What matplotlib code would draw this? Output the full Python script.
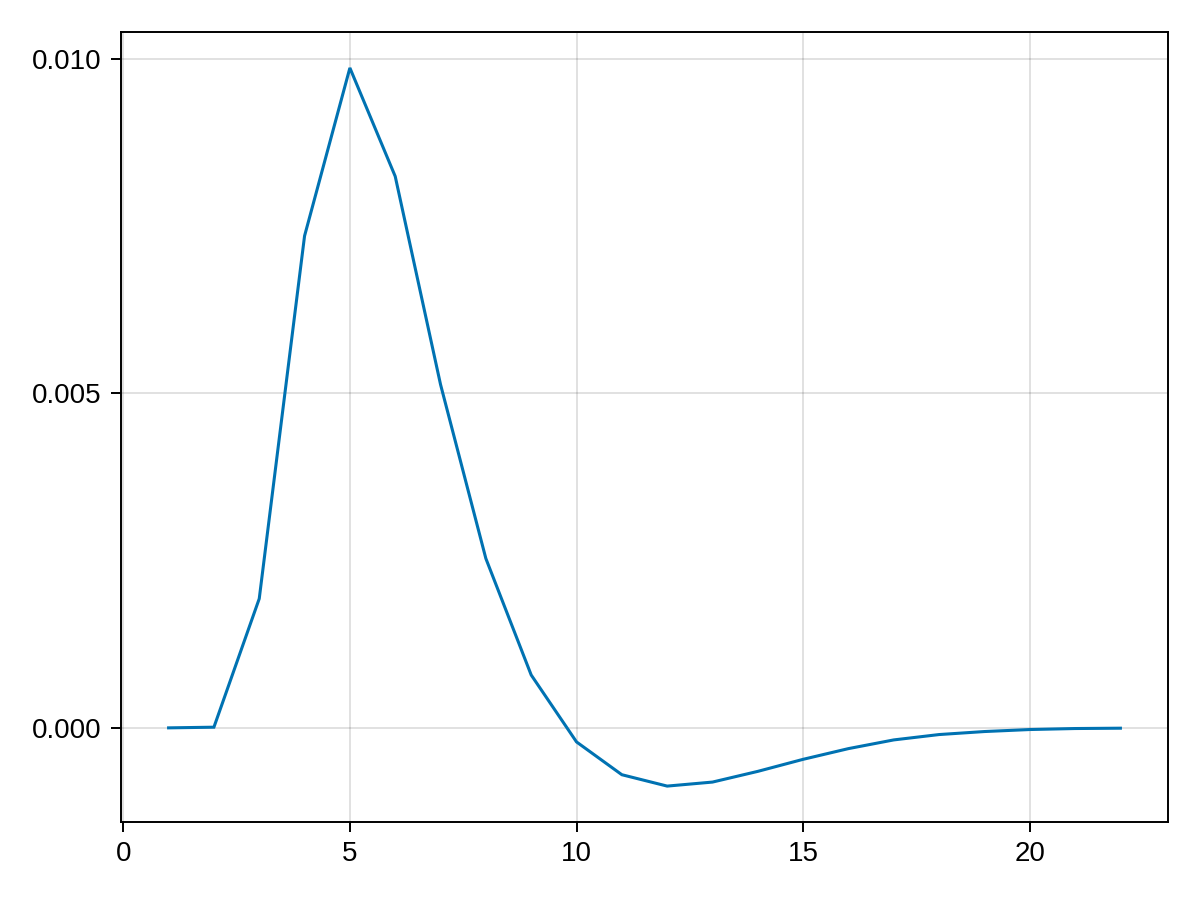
import matplotlib
matplotlib.use('Agg')
import matplotlib.pyplot as plt

# values
x = list(range(1, 23))
y = [0.0, 0.00001, 0.00193, 0.00735, 0.00986, 0.00824, 0.00513, 0.00253,
     0.00079, -0.00021, -0.00070, -0.00087, -0.00081, -0.00065, -0.00047,
     -0.00031, -0.00018, -0.00010, -0.000055, -0.000025, -0.00001, -0.000005]

xticks = [0, 5, 10, 15, 20]
yticks = [0.0, 0.005, 0.010]
ytick_labels = ['0.000', '0.005', '0.010']

plt.rcParams['font.family'] = ['Liberation Sans', 'DejaVu Sans']

fig = plt.figure(figsize=(12, 9), dpi=100)
ax = fig.add_axes([121 / 1200, 1 - 822 / 900, (1168 - 121) / 1200, (822 - 32) / 900])

ax.plot(x, y, color='#0072B2', linewidth=2.2, solid_joinstyle='miter')

# Makie-style 5% padding of the data range
xmin, xmax = min(x), max(x)
ymin, ymax = min(y), max(y)
ax.set_xlim(xmin - 0.05 * (xmax - xmin), xmax + 0.05 * (xmax - xmin))
ax.set_ylim(ymin - 0.05 * (ymax - ymin), ymax + 0.05 * (ymax - ymin))

ax.set_xticks(xticks)
ax.set_xticklabels([str(t) for t in xticks])
ax.set_yticks(yticks)
ax.set_yticklabels(ytick_labels)

ax.grid(True, color='black', alpha=0.12, linewidth=1.4)
ax.set_axisbelow(True)
for s in ax.spines.values():
    s.set_linewidth(1.4)

ax.tick_params(direction='out', length=7, width=1.4, labelsize=20, pad=7)

fig.savefig('out.png', dpi=100)
